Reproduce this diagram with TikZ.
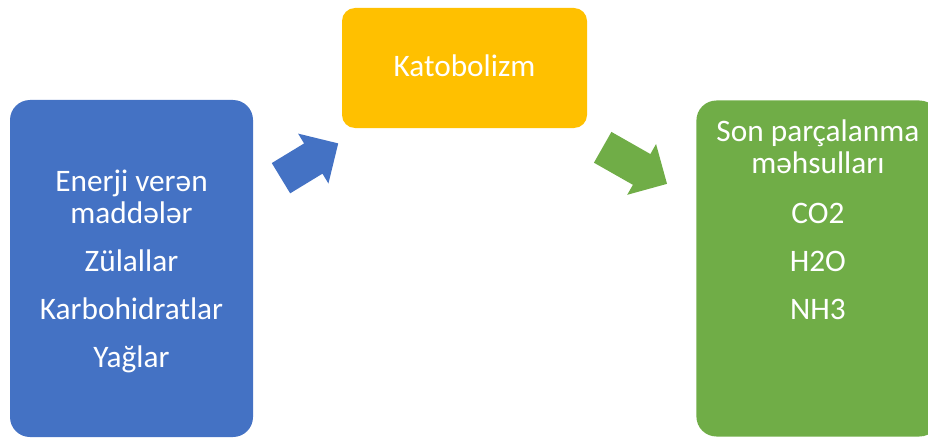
\documentclass[tikz,border=0pt]{standalone}
\usepackage{fontspec}
\setmainfont{Carlito}
\usetikzlibrary{positioning,shapes.arrows}

\definecolor{sourceblue}{HTML}{4472C4}
\definecolor{catyellow}{HTML}{FFC000}
\definecolor{productgreen}{HTML}{70AD47}

\begin{document}
\begin{tikzpicture}[x=1pt,y=1pt]
\tikzset{
    block/.style={rectangle, draw=none, text=white, align=center, font=\fontsize{31.3}{32}\selectfont, minimum width=243pt, inner sep=0pt, text depth=8pt},
    flowarrow/.style={single arrow, draw=none, inner xsep=0pt, inner ysep=17.5pt, single arrow head extend=11.5pt, single arrow tip angle=90, anchor=tail}
}
\useasboundingbox (0,0) rectangle (928,440);

\node[block, fill=sourceblue, minimum height=337pt, rounded corners=20pt, text height=206pt] (sources) at (131.5,171.5) {Enerji verən\\maddələr\\[16pt]Zülallar\\[16pt]Karbohidratlar\\[16pt]Yağlar};
\node[block, fill=catyellow, minimum width=245pt, minimum height=120pt, rounded corners=13pt, text height=22pt, text depth=4pt] (catabolism) at (464.5,372) {Katobolizm};
\node[block, fill=productgreen, minimum height=336pt, rounded corners=20pt, text height=110pt, right=443pt of sources] (products) {Son parçalanma\\məhsulları\\[18pt]CO2\\[16pt]H2O\\[16pt]NH3};

\node[flowarrow, fill=sourceblue, minimum height=67pt, rotate=31.3] (arrowin) at (280.8,261.7) {};
\node[flowarrow, fill=productgreen, minimum height=74pt, rotate=-29.6] (arrowout) at (602.5,292.8) {};
\end{tikzpicture}
\end{document}
